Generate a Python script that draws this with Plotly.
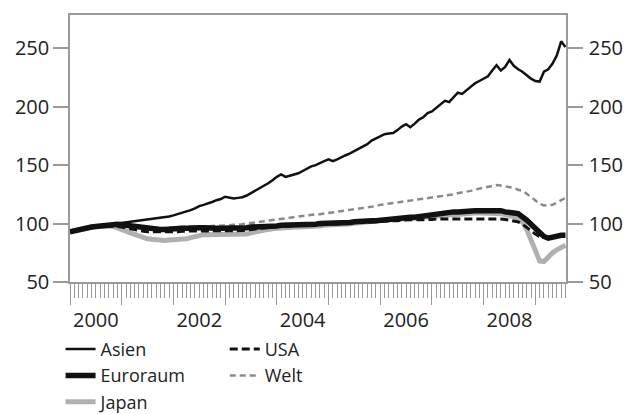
import plotly.graph_objects as go

start_year = 2000
asien = [
    93, 94, 95, 96, 96.5, 97, 97.5, 98, 98, 99, 99.5, 100,
    100, 100.5, 101, 101.5, 102, 102.5, 103, 103.5, 104, 105, 105.5, 106,
    107, 108, 109, 110, 111.5, 113, 115, 116, 117, 118.5, 120, 121,
    123, 122, 121.5, 122, 122.5, 124, 126, 128, 130, 132, 134.5, 137,
    140, 142, 140, 141, 142, 143, 145, 147, 149, 150, 152, 153.5,
    155, 153.5, 155, 157, 158.5, 160, 162, 164, 166, 168, 171, 173,
    175, 176.5, 177, 177.5, 180, 183, 185, 182.5, 185.5, 189, 191, 194.5,
    196, 199, 202, 205, 204, 208, 212, 211, 214, 217, 220, 222,
    224, 226, 231, 235.5, 231, 234, 240, 235, 232, 230, 227, 224,
    222, 221.5, 230, 232, 237, 244, 256, 251,
]
euroraum = [
    93, 94, 95, 96, 96.5, 97, 97.5, 98, 98.5, 99, 99, 99.5,
    99, 98.5, 98, 97.5, 97, 96, 95.5, 95, 95, 95, 95, 95.5,
    95.5, 96, 96, 96, 96.5, 96.5, 96.5, 96.5, 96, 96, 96, 96,
    96, 95.5, 95.5, 95.5, 96, 96.5, 97, 97, 97, 97.5, 97.5, 98,
    98, 98.5, 98.5, 99, 99, 99, 99.5, 99.5, 99.5, 99.5, 100, 100,
    100, 100, 100.5, 100.5, 101, 101, 101.5, 102, 102, 102, 102.5, 102.5,
    103, 103.5, 104, 104.5, 105, 105.5, 105.5, 105.5, 105.5, 106, 107, 107.5,
    108.5, 108.5, 108.5, 109, 109.5, 110, 110, 110.5, 110.5, 111, 111, 111,
    111, 111.5, 111.5, 111.5, 111, 110, 109, 109, 108.5, 106, 103, 99.5,
    95.5, 91.5, 89, 87.5, 88.5, 89.5, 90, 90,
]
japan = [
    93, 94, 95, 96, 96.5, 97, 97.5, 98, 98, 98, 97.5, 96.5,
    95, 93.5, 92, 90.5, 89, 88, 87, 86.5, 86, 85.5, 85.5, 86,
    86, 86, 86.5, 87, 88, 89, 90, 90.5, 90.5, 90.5, 91, 91,
    91, 91, 91, 90.5, 90.5, 91, 92, 93, 94, 94.5, 95, 95.5,
    96, 96, 96.5, 96.5, 97, 97, 97, 97, 97.5, 97.5, 98, 98.5,
    99, 99, 99, 99.5, 99.5, 100, 100, 100.5, 101, 101.5, 102, 102.5,
    102.5, 103, 103, 103.5, 104, 104, 104, 104.5, 104.5, 105, 105, 105.5,
    106, 106.5, 107, 107, 107.5, 107.5, 108, 108, 108.5, 108.5, 109, 109,
    109, 109.5, 109.5, 109, 108.5, 107.5, 107, 106, 104, 101.5, 95, 86,
    76, 68, 67.5, 72, 75, 77.5, 79.5, 81.5,
]
usa = [
    93, 94, 95, 96, 96.5, 97, 97.5, 98, 98, 98, 98, 97.5,
    97, 96, 95.5, 95, 94, 93.5, 93, 93, 92.5, 92.5, 92.5, 93,
    93, 93, 93.5, 93.5, 93.5, 93.5, 93.5, 93.5, 93.5, 93.5, 93.5, 93.5,
    93.5, 93.5, 93.5, 93.5, 94, 94.5, 95, 95.5, 96, 96.5, 97, 97,
    97.5, 97.5, 98, 98, 98, 98.5, 98.5, 98.5, 99, 99, 99, 99.5,
    99.5, 99.5, 100, 100, 100, 100.5, 100.5, 101, 101, 101, 101.5, 101.5,
    102, 102, 102.5, 102.5, 102.5, 103, 103, 103, 103, 103, 103.5, 103.5,
    103.5, 104, 104, 104, 104, 104.5, 104.5, 104.5, 104.5, 104.5, 104.5, 104.5,
    104.5, 104.5, 104.5, 104, 104, 103.5, 103, 102.5, 101.5, 99.5, 97, 94,
    91, 89, 88, 88, 88.5, 89, 89, 89,
]
welt = [
    93, 94, 95, 96, 96.5, 97, 97.5, 98, 98.5, 99, 99, 99,
    99, 98.5, 98, 97.5, 97, 96.5, 96.5, 96, 96, 96, 96, 96.5,
    96.5, 97, 97, 97, 97.5, 97.5, 97.5, 97.5, 97.5, 98, 98, 98,
    98.5, 98.5, 99, 99, 99.5, 100, 100.5, 101.5, 102, 102.5, 103, 103.5,
    104, 104.5, 105, 105, 105.5, 106, 106.5, 107, 107.5, 108, 108, 108.5,
    109, 109.5, 110, 110.5, 111, 111.5, 112, 112.5, 113, 113.5, 114, 115,
    116, 116.5, 117, 117.5, 118, 118.5, 119, 119.5, 120, 120.5, 121, 121.5,
    122, 122.5, 123, 123.5, 124.5, 125, 126, 126.5, 127, 128, 129, 130,
    131, 131.5, 132, 133, 132.5, 132, 131.5, 130.5, 129, 128, 125.5, 122.5,
    120, 117, 115.5, 115.5, 116, 118, 120, 122,
]
year_labels = ["2000", "2002", "2004", "2006", "2008"]
y_ticks = [50, 100, 150, 200, 250]

t = [start_year + i / 12 for i in range(len(asien))]
x_end = t[-1] + 0.01
label_pos = [int(s) + 0.5 for s in year_labels]

FONT = "Open Sans"
AX = "#9a9a9a"
TXT = "#222222"

fig = go.Figure()
fig.add_trace(go.Scatter(x=t, y=japan, name="Japan", mode="lines",
                         line=dict(color="#b0b0b0", width=5), legend="legend", legendrank=3))
fig.add_trace(go.Scatter(x=t, y=welt, name="Welt", mode="lines",
                         line=dict(color="#8a8a8a", width=2.5, dash="6px,4px"), legend="legend2", legendrank=2))
fig.add_trace(go.Scatter(x=t, y=usa, name="USA", mode="lines",
                         line=dict(color="#111111", width=3, dash="8px,4px"), legend="legend2", legendrank=1))
fig.add_trace(go.Scatter(x=t, y=euroraum, name="Euroraum", mode="lines",
                         line=dict(color="#111111", width=5.5), legend="legend", legendrank=2))
fig.add_trace(go.Scatter(x=t, y=asien, name="Asien", mode="lines",
                         line=dict(color="#111111", width=2.5), legend="legend", legendrank=1))
# invisible carrier so the secondary axes (year labels, right scale) are drawn
fig.add_trace(go.Scatter(x=t, y=asien, mode="none", xaxis="x2", yaxis="y2",
                         showlegend=False, hoverinfo="skip"))

yax = dict(range=[50, 278.5], tickvals=y_ticks, ticks="outside", ticklen=15,
           tickcolor=AX, tickwidth=1.5, showline=True, linecolor=AX, linewidth=1.5,
           showgrid=False, zeroline=False, automargin=False,
           tickfont=dict(size=20, color=TXT, family=FONT))

fig.update_layout(
    width=626, height=414,
    margin=dict(l=70, r=60, t=15, b=132, autoexpand=False),
    paper_bgcolor="white", plot_bgcolor="white",
    font=dict(family=FONT, color=TXT),
    xaxis=dict(range=[start_year, x_end], tick0=start_year, dtick=1, ticks="outside",
               ticklen=21, tickcolor=AX, tickwidth=1.2, showticklabels=False,
               showline=True, linecolor=AX, linewidth=1.5, mirror=True,
               showgrid=False, zeroline=False, automargin=False,
               minor=dict(ticks="outside", ticklen=14, tick0=start_year, dtick=1 / 12,
                          tickcolor=AX, tickwidth=1, showgrid=False)),
    xaxis2=dict(range=[start_year, x_end], overlaying="x", anchor="y", side="bottom",
                tickmode="array", tickvals=label_pos, ticktext=year_labels,
                ticks="outside", ticklen=20, tickcolor="rgba(0,0,0,0)",
                showline=False, showgrid=False, zeroline=False, automargin=False,
                tickfont=dict(size=20, color=TXT, family=FONT)),
    yaxis=dict(**yax, side="left"),
    yaxis2=dict(**yax, side="right", overlaying="y", anchor="x", ticklabelstandoff=2),
    legend=dict(x=-0.019, xanchor="left", y=-0.183, yanchor="top", orientation="v",
                font=dict(size=18, color=TXT, family=FONT), itemwidth=30,
                bgcolor="rgba(0,0,0,0)", tracegroupgap=0),
    legend2=dict(x=0.312, xanchor="left", y=-0.183, yanchor="top", orientation="v",
                 font=dict(size=18, color=TXT, family=FONT), itemwidth=30,
                 bgcolor="rgba(0,0,0,0)", tracegroupgap=0),
    showlegend=True,
)

# remove the page's default body margin so the 626x414 figure fills the window exactly
fig.write_html("out.html", config={"displayModeBar": False},
               post_script="document.body.style.margin='0';document.body.style.overflow='hidden';")
